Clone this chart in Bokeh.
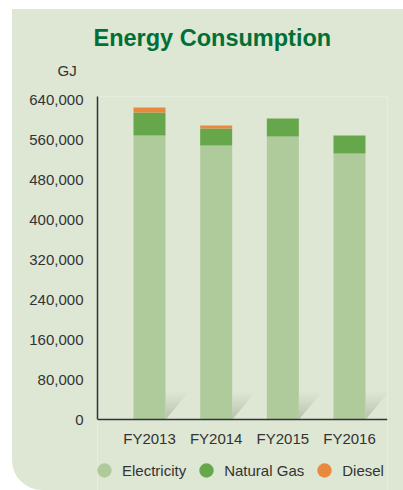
from bokeh.plotting import figure
from bokeh.models import (ColumnDataSource, Range1d, FixedTicker, NumeralTickFormatter,
                          Title, Legend, LegendItem)
from bokeh.embed import file_html
from bokeh.resources import INLINE

# ---- data ----
years = ["FY2013", "FY2014", "FY2015", "FY2016"]
electricity = [568000, 548000, 566000, 532000]
natural_gas = [46000, 34000, 36000, 36000]
diesel = [10000, 6000, 0, 0]
series = ["Electricity", "Natural Gas", "Diesel"]
y_ticks = [0, 80000, 160000, 240000, 320000, 400000, 480000, 560000, 640000]

# ---- style ----
PANEL = "#dee6d4"
COLORS = ["#afcb9b", "#67a74b", "#e9893d"]
TEXT = "#333333"
FONT = "Liberation Sans"

xs = list(range(1, len(years) + 1))
src = ColumnDataSource(dict(x=xs, Electricity=electricity,
                            **{"Natural Gas": natural_gas}, Diesel=diesel))

# plot frame reaches the bottom edge: x axis is pinned at y = 0, legend sits below it
p = figure(width=403, height=490, output_backend="svg", toolbar_location=None,
           x_range=Range1d(0.22, 4.57), y_range=Range1d(-142000, 646000),
           min_border_left=97, min_border_right=16, min_border_top=96, min_border_bottom=0)
p.styles = {"clip-path": "inset(9px 0px 0px 12px round 0px 0px 0px 30px)"}
p.background_fill_color = PANEL
p.border_fill_color = PANEL
p.outline_line_color = None
p.grid.visible = False

# shadows (decorative) at the bottom-right of each bar
bar_w = 0.48
sh_w, sh_h, nb = 0.345, 54000, 9
for i in range(nb):
    y0 = sh_h * i / nb
    y1 = sh_h * (i + 1) / nb
    sx, sy = [], []
    for x in xs:
        xr = x + bar_w / 2
        sx.append([xr, xr + sh_w * y0 / sh_h, xr + sh_w * y1 / sh_h, xr])
        sy.append([y0, y0, y1, y1])
    p.patches(sx, sy, fill_color="#7d8c74", fill_alpha=0.42 * (1 - i / nb) ** 1.3,
              line_color=None)

p.vbar_stack(series, x="x", width=bar_w, source=src, color=COLORS, line_color=None)

# axes
p.yaxis.ticker = FixedTicker(ticks=y_ticks)
p.yaxis.formatter = NumeralTickFormatter(format="0,0")
p.yaxis.bounds = (0, 646000)
p.xaxis.ticker = FixedTicker(ticks=xs)
p.xaxis.major_label_overrides = {x: y for x, y in zip(xs, years)}
p.xaxis.fixed_location = 0
for ax in (p.xaxis, p.yaxis):
    ax.axis_line_color = TEXT
    ax.axis_line_width = 1.5
    ax.major_tick_line_color = None
    ax.minor_tick_line_color = None
    ax.major_tick_out = 0
    ax.major_tick_in = 0
    ax.major_label_text_font = FONT
    ax.major_label_text_font_size = "15px"
    ax.major_label_text_color = TEXT
p.yaxis.major_label_standoff = 14
p.xaxis.major_label_standoff = 10

# unit and title
p.add_layout(Title(text="GJ", align="left", offset=-40, standoff=36,
                   text_font=FONT, text_font_style="normal", text_font_size="15px",
                   text_color=TEXT), "above")
p.add_layout(Title(text="Energy Consumption", align="left", offset=-4, standoff=-19,
                   text_font=FONT, text_font_style="bold", text_font_size="23.5px",
                   text_color="#007036"), "above")

# legend with circle markers (the marker renderers have zero size, so only the legend shows them)
items = []
for name, c in zip(series, COLORS):
    r = p.scatter("x", name, source=src, marker="circle", size=0,
                  fill_color=c, line_color=None)
    items.append(LegendItem(label=name, renderers=[r]))
legend = Legend(items=items, orientation="horizontal", location=(-11, 2),
                glyph_width=36, glyph_height=36, label_standoff=0, spacing=2,
                padding=0, margin=0, background_fill_alpha=0, border_line_color=None,
                label_text_font=FONT, label_text_font_size="15px",
                label_text_color=TEXT)
p.add_layout(legend, "center")

open("out.html", "w").write(file_html(p, INLINE))
